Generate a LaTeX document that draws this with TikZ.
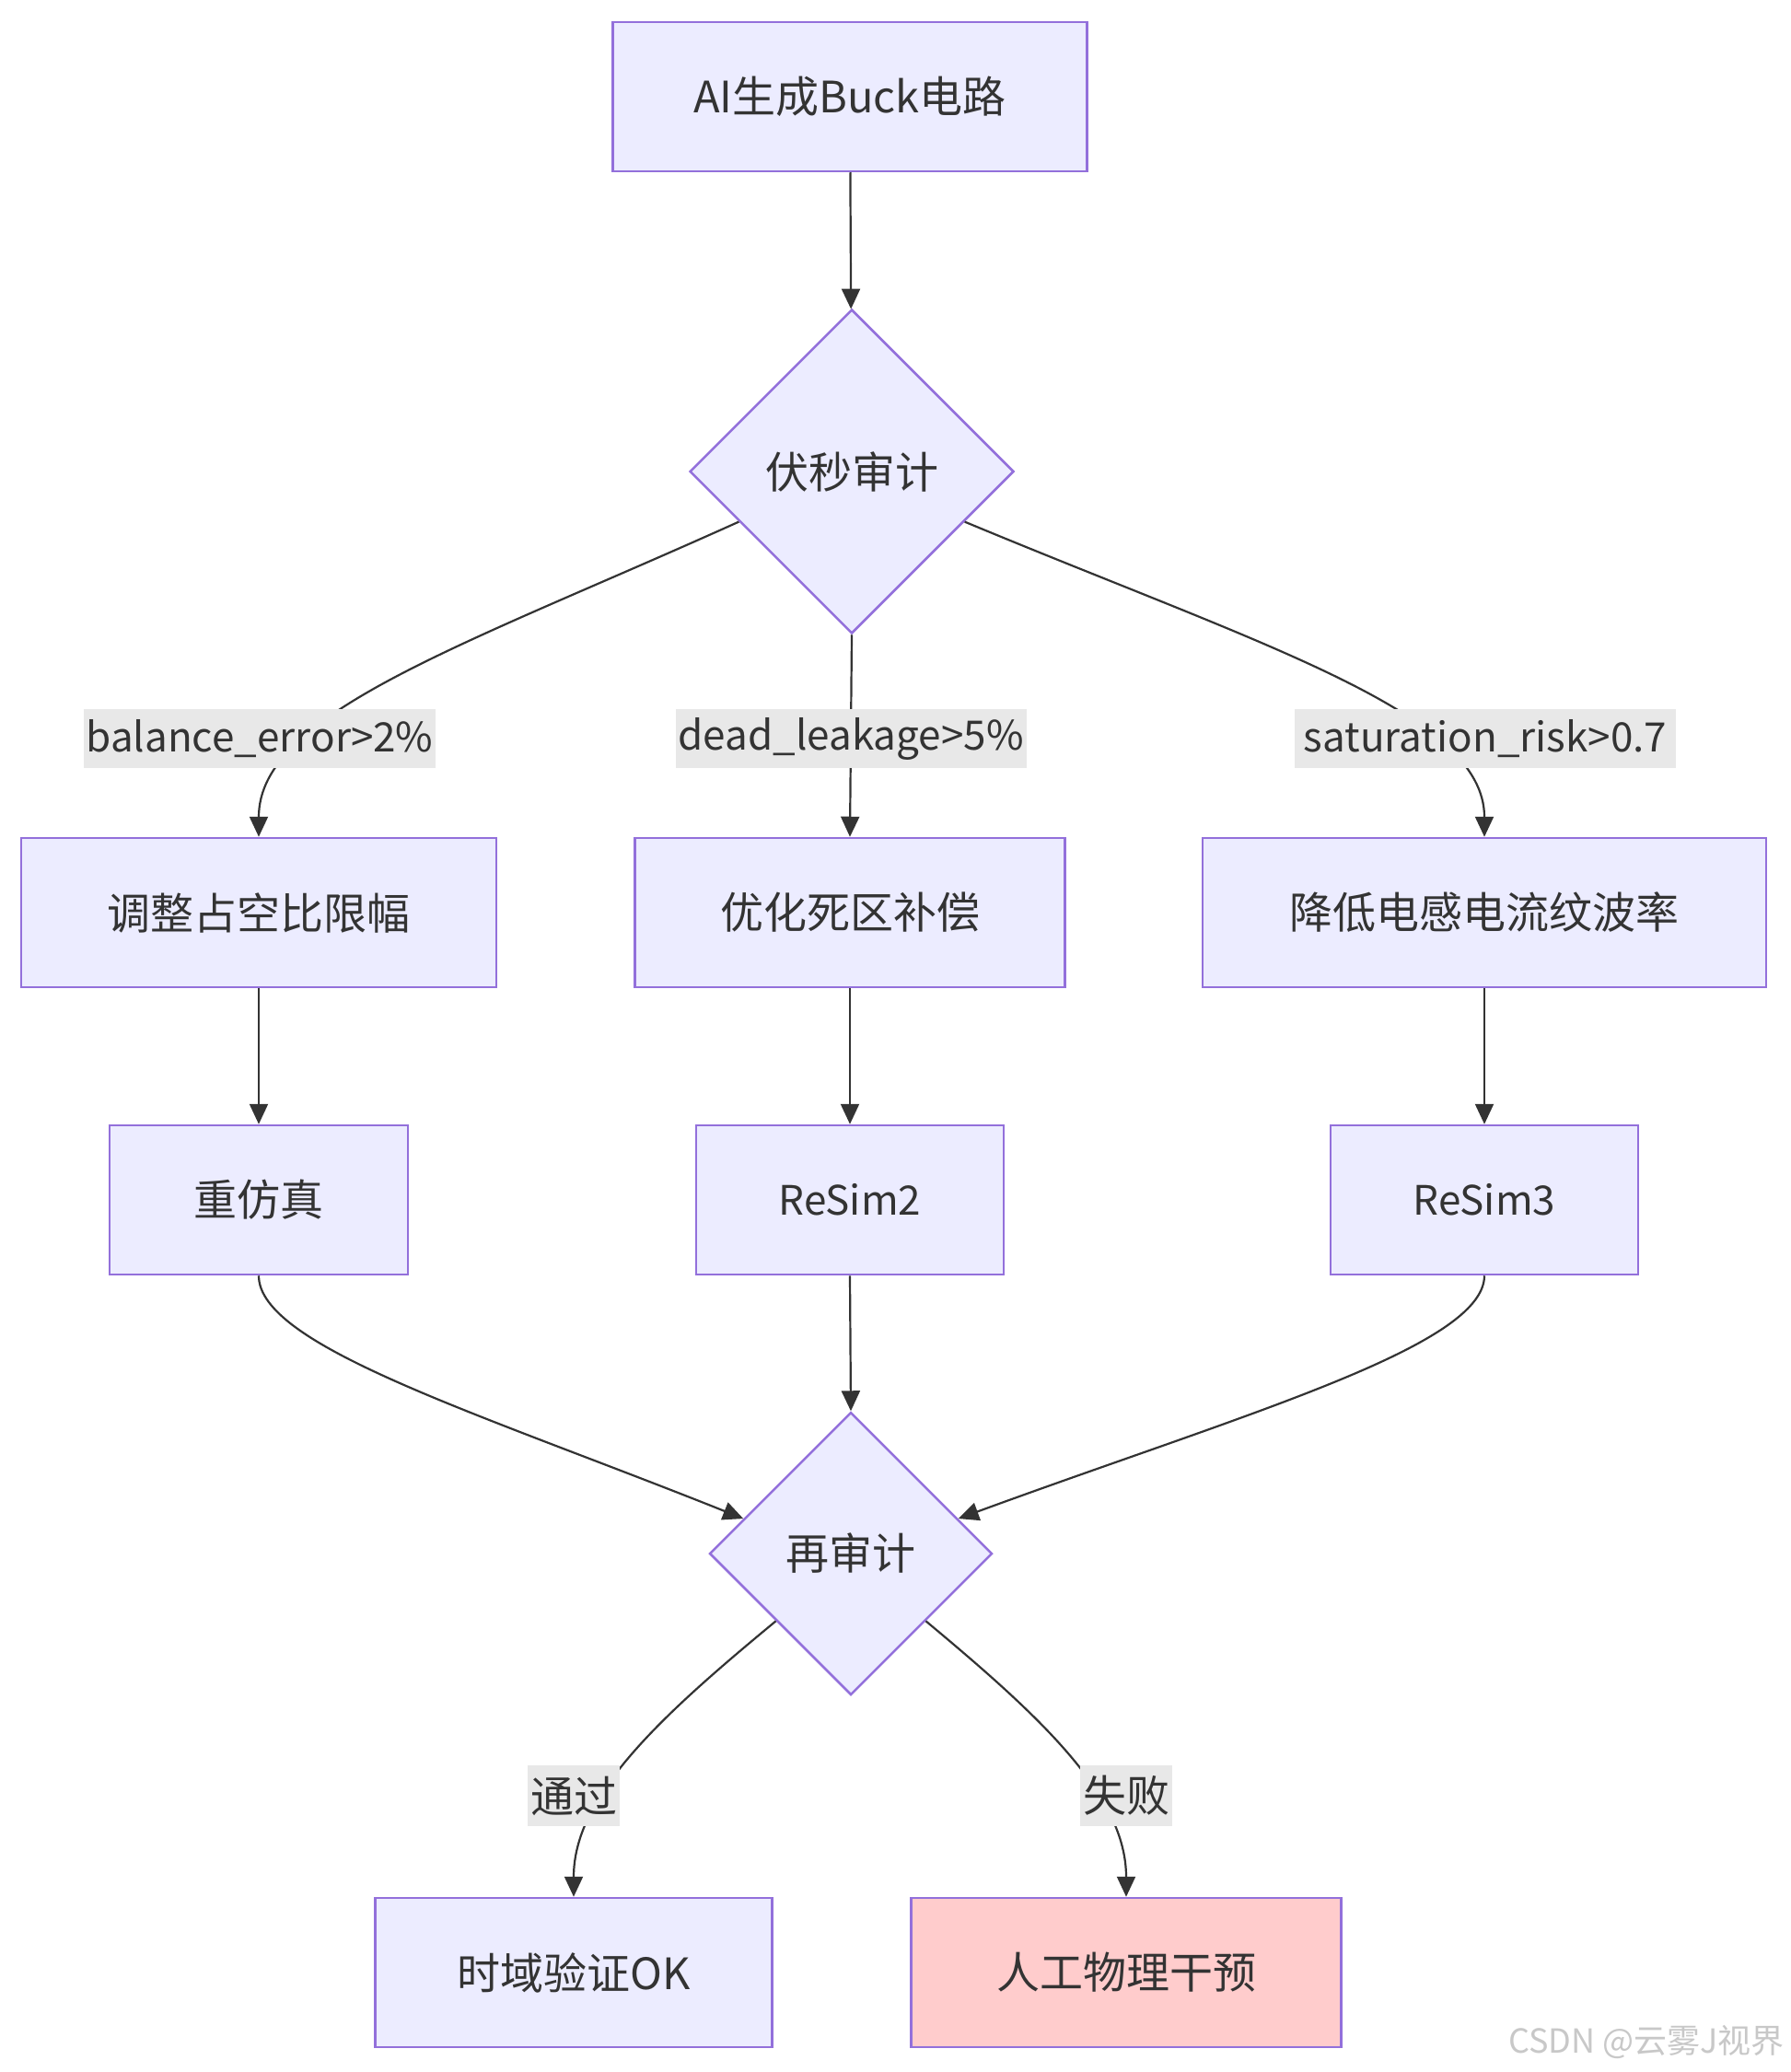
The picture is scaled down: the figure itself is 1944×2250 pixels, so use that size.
\documentclass[tikz,border=0pt]{standalone}
\usepackage{fontspec}
\setmainfont{Noto Sans CJK SC}
\usetikzlibrary{shapes.geometric,arrows.meta}
\definecolor{nodefill}{HTML}{ECECFF}
\definecolor{nodeline}{HTML}{9370DB}
\definecolor{edgecol}{HTML}{333333}
\definecolor{lblbg}{HTML}{E8E8E8}
\definecolor{failfill}{HTML}{FFCCCC}
\definecolor{wmark}{HTML}{C8C8C8}
\begin{document}
\begin{tikzpicture}[x=1pt,y=-1pt,
  box/.style={draw=nodeline, fill=nodefill, line width=2.5pt, inner sep=0pt,
    minimum height=162pt, font=\fontsize{47}{56}\selectfont, text=edgecol},
  dec/.style={diamond, shape aspect=1, draw=nodeline, fill=nodefill, line width=2.5pt,
    inner sep=0pt, font=\fontsize{47}{56}\selectfont, text=edgecol},
  lbl/.style={fill=lblbg, inner xsep=3pt, inner ysep=0pt, minimum height=64pt,
    font=\fontsize{47}{56}\selectfont, text=edgecol},
  latin/.style={font=\fontsize{44}{54}\selectfont},
  edge/.style={draw=edgecol, line width=2.2pt, -{Triangle[length=22pt,width=20pt]}}]
\useasboundingbox[fill=white] (0,0) rectangle (1944,2250);

% nodes
\node[box, minimum width=515pt] (top) at (923,105) {AI生成Buck电路};
\node[dec, minimum width=352pt, minimum height=352pt] (d1) at (925,512) {伏秒审计};
\node[box, minimum width=516pt] (a) at (281,991) {调整占空比限幅};
\node[box, minimum width=467pt] (b) at (923,991) {优化死区补偿};
\node[box, minimum width=612pt] (c) at (1612,991) {降低电感电流纹波率};
\node[box, minimum width=324pt] (d) at (281,1303) {重仿真};
\node[box, latin, minimum width=334pt] (e) at (923,1303) {ReSim2};
\node[box, latin, minimum width=334pt] (f) at (1612,1303) {ReSim3};
\node[dec, minimum width=307pt, minimum height=307pt] (d2) at (924,1687) {再审计};
\node[box, minimum width=431pt] (g) at (623,2142) {时域验证OK};
\node[box, minimum width=467pt, fill=failfill] (h) at (1223,2142) {人工物理干预};

% edges
\draw[edge] (top) -- (d1);
\draw[edge] (d1.204) .. controls (502,702) and (281,774) .. (a.north);
\draw[edge] (d1.south) -- (b.north);
\draw[edge] (d1.336) .. controls (1373,702) and (1612,774) .. (c.north);
\draw[edge] (a) -- (d);
\draw[edge] (b) -- (e);
\draw[edge] (c) -- (f);
\draw[edge] (d.south) .. controls (281,1462) and (522,1535) .. (d2.162);
\draw[edge] (e.south) -- (d2.north);
\draw[edge] (f.south) .. controls (1612,1462) and (1352,1535) .. (d2.18);
\draw[edge] (d2.222) .. controls (717,1864) and (623,1950) .. (g.north);
\draw[edge] (d2.318) .. controls (1130,1864) and (1223,1950) .. (h.north);

% edge labels
\node[lbl, latin, minimum width=380pt] (l1) at (282,802) {balance\_error>2\%};
\node[lbl, latin, minimum width=374pt] (l2) at (924,802) {dead\_leakage>5\%};
\node[lbl, latin, minimum width=414pt] (l3) at (1613,802) {saturation\_risk>0.7};
\node[lbl, minimum height=66pt] (l4) at (623,1950) {通过};
\node[lbl, minimum height=66pt] (l5) at (1223,1950) {失败};

% watermark
\node[anchor=east, text=wmark, font=\fontsize{36}{42}\selectfont, inner sep=0pt] (wm) at (1938,2218) {CSDN @云雾J视界};
\end{tikzpicture}
\end{document}
